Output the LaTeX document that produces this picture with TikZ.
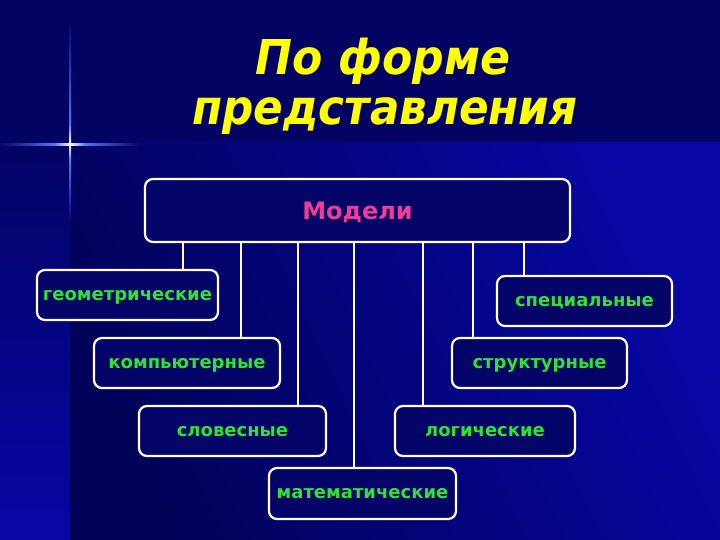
\documentclass[tikz,border=0pt]{standalone}
\usepackage{fontspec}
\usepackage{graphicx}
\newfontfamily\dvs{DejaVu Sans}
\definecolor{bgtop}{RGB}{3,3,100}
\definecolor{bglo}{RGB}{2,2,88}
\definecolor{bghi}{RGB}{6,6,165}
\definecolor{boxfill}{RGB}{3,3,104}
\definecolor{txtgreen}{RGB}{45,228,50}
\definecolor{txtpink}{RGB}{240,60,150}
\definecolor{titley}{RGB}{255,255,0}
\definecolor{spark}{RGB}{80,120,245}
\begin{document}
\begin{tikzpicture}[x=1pt,y=-1pt,
  box/.style={draw=white, line width=2.2pt, rounded corners=8pt, fill=boxfill,
    inner sep=0pt, text depth=0pt, text=txtgreen, font=\dvs\bfseries\fontsize{18}{21}\selectfont},
  topbox/.style={box, text=txtpink, font=\dvs\bfseries\fontsize{24}{28}\selectfont},
  conn/.style={draw=white, line width=2.2pt},
  ttl/.style={text=titley, inner sep=0pt, anchor=base,
    font=\dvs\bfseries\itshape\fontsize{48}{52}\selectfont}]
% background
\useasboundingbox (0,0) rectangle (720,540);
\fill[bgtop] (0,0) rectangle (720,540);
\shade[top color=bgtop, bottom color=bghi] (0,143) rectangle (70,540);
\shade[top color=bghi, bottom color=bglo, shading angle=-65] (70,143) rectangle (720,540);
% sparkle
\shade[left color=bgtop, right color=spark] (0,143.2) rectangle (55,145.2);
\shade[left color=spark, right color=white] (55,143.2) rectangle (70,145.2);
\shade[left color=white, right color=spark] (70,143.2) rectangle (85,145.2);
\shade[left color=spark, right color=bgtop] (85,143.2) rectangle (140,145.2);
\shade[top color=bgtop, bottom color=spark] (69,20) rectangle (71,125);
\shade[top color=spark, bottom color=white] (69,125) rectangle (71,144);
\shade[top color=white, bottom color=spark] (69,144) rectangle (71,160);
\shade[top color=spark, bottom color=bghi!60!bgtop] (69,160) rectangle (71,220);
% title
\node[ttl] (t1) at (383,75) {\scalebox{0.92}[1]{По форме}};
\node[ttl] (t2) at (385,125) {\scalebox{0.91}[1]{представления}};
% boxes
\node[topbox, minimum width=425pt, minimum height=63pt] (mod) at (357.5,210.5) {Модели};
\node[box, minimum width=181pt, minimum height=50pt] (geo) at (127.5,295) {геометрические};
\node[box, minimum width=175pt, minimum height=50pt] (spe) at (584.5,301) {специальные};
\node[box, minimum width=186pt, minimum height=50pt] (com) at (187,363) {компьютерные};
\node[box, minimum width=175pt, minimum height=50pt] (str) at (539.5,363) {структурные};
\node[box, minimum width=187pt, minimum height=50pt] (slo) at (232.5,431) {словесные};
\node[box, minimum width=180pt, minimum height=50pt] (log) at (485,431) {логические};
\node[box, minimum width=187pt, minimum height=51pt] (mat) at (362.5,493.5) {математические};
% connector columns
\coordinate (x1) at (183,0);
\coordinate (x2) at (241,0);
\coordinate (x3) at (298,0);
\coordinate (x4) at (354,0);
\coordinate (x5) at (423,0);
\coordinate (x6) at (473,0);
\coordinate (x7) at (524,0);
\draw[conn] (mod.south -| x1) -- (geo.north -| x1);
\draw[conn] (mod.south -| x2) -- (com.north -| x2);
\draw[conn] (mod.south -| x3) -- (slo.north -| x3);
\draw[conn] (mod.south -| x4) -- (mat.north -| x4);
\draw[conn] (mod.south -| x5) -- (log.north -| x5);
\draw[conn] (mod.south -| x6) -- (str.north -| x6);
\draw[conn] (mod.south -| x7) -- (spe.north -| x7);
\end{tikzpicture}
\end{document}
